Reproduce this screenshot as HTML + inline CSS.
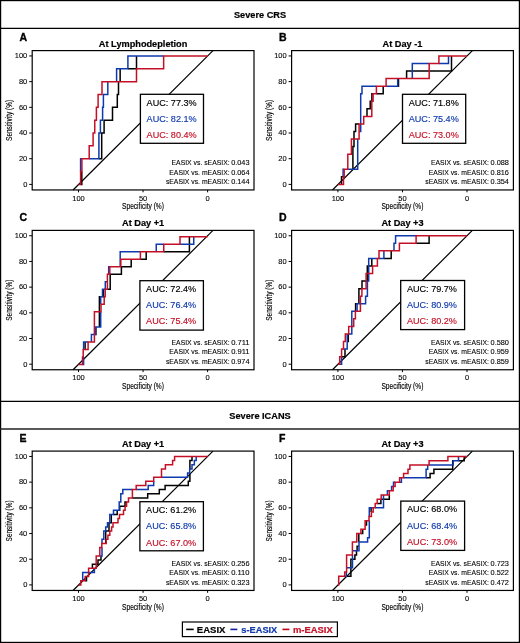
<!DOCTYPE html>
<html><head><meta charset="utf-8"><style>
html,body{margin:0;padding:0;background:#fff;}
svg{display:block;will-change:transform;}
text{font-family:"Liberation Sans", sans-serif;}
text.b{font-weight:bold;}
</style></head><body>
<svg width="520" height="643" viewBox="0 0 520 643">
<rect x="0.6" y="0.6" width="518.8" height="641.8" fill="none" stroke="#000" stroke-width="1.2"/>
<line x1="0" y1="28.3" x2="520" y2="28.3" stroke="#000" stroke-width="1.2"/>
<line x1="0" y1="401.4" x2="520" y2="401.4" stroke="#000" stroke-width="1.2"/>
<line x1="0" y1="429" x2="520" y2="429" stroke="#222" stroke-width="1.4"/>
<text x="260" y="18.1" class="b" font-size="9.2" text-anchor="middle" stroke="#000" stroke-width="0.2">Severe CRS</text>
<text x="260" y="418.5" class="b" font-size="9.2" text-anchor="middle" stroke="#000" stroke-width="0.2">Severe ICANS</text>
<g transform="translate(0,0)">
<text x="19.6" y="41" class="b" font-size="10.5" stroke="#000" stroke-width="0.35">A</text>
<text x="143.10" y="46.5" class="b" font-size="9.2" text-anchor="middle" stroke="#000" stroke-width="0.2">At Lymphodepletion</text>
<line x1="73.07" y1="189.95" x2="212.98" y2="50.6" stroke="#000" stroke-width="1.2"/>
<path d="M80.60,184.40 L81.80,184.40 L81.80,171.56 M98.90,158.71 L101.70,158.71 L101.70,133.02 L104.10,133.02 L104.10,120.18 L112.50,120.18 L112.50,107.33 L117.30,107.33 L117.30,94.48 L118.50,94.48 L118.50,81.64 M120.15,81.64 L120.15,68.80 M127.90,68.80 L136.50,68.80 L136.50,55.95" fill="none" stroke="#000000" stroke-width="1.5" stroke-linejoin="miter"/>
<path d="M80.60,171.56 L80.60,158.71 L81.90,158.71 M89.20,158.71 L98.90,158.71 L98.90,133.02 L100.40,133.02 L100.40,120.18 L102.60,120.18 L102.60,107.33 L103.40,107.33 L103.40,94.48 L107.80,94.48 L107.80,81.64 M116.60,81.64 L116.60,68.80 L127.90,68.80 L127.90,55.95 L163.65,55.95" fill="none" stroke="#0f3aad" stroke-width="1.5" stroke-linejoin="miter"/>
<path d="M78.50,184.40 L80.60,184.40 L80.60,171.56 L81.90,171.56 L81.90,158.71 L89.20,158.71 L89.20,145.87 L93.10,145.87 L93.10,133.02 L94.75,133.02 L94.75,120.18 L96.40,120.18 L96.40,107.33 L98.10,107.33 L98.10,94.48 L102.00,94.48 L102.00,81.64 L136.50,81.64 L136.50,68.80 L163.65,68.80 L163.65,55.95 L207.60,55.95" fill="none" stroke="#c41026" stroke-width="1.5" stroke-linejoin="miter"/>
<rect x="32.2" y="50.6" width="221.80" height="139.35" fill="none" stroke="#000" stroke-width="1.2"/>
<line x1="29.2" y1="55.95" x2="32.2" y2="55.95" stroke="#000" stroke-width="1"/>
<text x="27.3" y="58.30" font-size="7.5" text-anchor="end" stroke="#000" stroke-width="0.1">100</text>
<line x1="29.2" y1="81.64" x2="32.2" y2="81.64" stroke="#000" stroke-width="1"/>
<text x="27.3" y="83.99" font-size="7.5" text-anchor="end" stroke="#000" stroke-width="0.1">80</text>
<line x1="29.2" y1="107.33" x2="32.2" y2="107.33" stroke="#000" stroke-width="1"/>
<text x="27.3" y="109.68" font-size="7.5" text-anchor="end" stroke="#000" stroke-width="0.1">60</text>
<line x1="29.2" y1="133.02" x2="32.2" y2="133.02" stroke="#000" stroke-width="1"/>
<text x="27.3" y="135.37" font-size="7.5" text-anchor="end" stroke="#000" stroke-width="0.1">40</text>
<line x1="29.2" y1="158.71" x2="32.2" y2="158.71" stroke="#000" stroke-width="1"/>
<text x="27.3" y="161.06" font-size="7.5" text-anchor="end" stroke="#000" stroke-width="0.1">20</text>
<line x1="29.2" y1="184.40" x2="32.2" y2="184.40" stroke="#000" stroke-width="1"/>
<text x="27.3" y="186.75" font-size="7.5" text-anchor="end" stroke="#000" stroke-width="0.1">0</text>
<line x1="78.50" y1="189.95" x2="78.50" y2="192.3" stroke="#000" stroke-width="1"/>
<text x="78.50" y="200.6" font-size="7.5" text-anchor="middle" stroke="#000" stroke-width="0.1">100</text>
<line x1="143.05" y1="189.95" x2="143.05" y2="192.3" stroke="#000" stroke-width="1"/>
<text x="143.05" y="200.6" font-size="7.5" text-anchor="middle" stroke="#000" stroke-width="0.1">50</text>
<line x1="207.60" y1="189.95" x2="207.60" y2="192.3" stroke="#000" stroke-width="1"/>
<text x="207.60" y="200.6" font-size="7.5" text-anchor="middle" stroke="#000" stroke-width="0.1">0</text>
<text x="143" y="209.4" font-size="8.2" text-anchor="middle" textLength="41.9" lengthAdjust="spacingAndGlyphs" stroke="#000" stroke-width="0.15">Specificity (%)</text>
<text transform="translate(12.3,120.4) rotate(-90)" x="0" y="0" font-size="8.2" text-anchor="middle" textLength="41" lengthAdjust="spacingAndGlyphs" stroke="#000" stroke-width="0.15">Sensitivity (%)</text>
<rect x="140.4" y="94.30" width="63.10" height="49.00" fill="#fff" stroke="#000" stroke-width="1.3"/>
<text x="146.60" y="105.50" font-size="9.1" fill="#000000" stroke="#000000" stroke-width="0.15">AUC: 77.3%</text>
<text x="146.60" y="121.80" font-size="9.1" fill="#0f3aad" stroke="#0f3aad" stroke-width="0.15">AUC: 82.1%</text>
<text x="146.60" y="138.10" font-size="9.1" fill="#c41026" stroke="#c41026" stroke-width="0.15">AUC: 80.4%</text>
<text x="229.6" y="165.25" font-size="6.95" text-anchor="end" textLength="58.03" lengthAdjust="spacingAndGlyphs" stroke="#000" stroke-width="0.1">EASIX vs. sEASIX:</text>
<text x="249.55" y="165.25" font-size="6.95" text-anchor="end" textLength="18.4" lengthAdjust="spacingAndGlyphs" stroke="#000" stroke-width="0.1">0.043</text>
<text x="229.6" y="174.65" font-size="6.95" text-anchor="end" textLength="60.31" lengthAdjust="spacingAndGlyphs" stroke="#000" stroke-width="0.1">EASIX vs. mEASIX:</text>
<text x="249.55" y="174.65" font-size="6.95" text-anchor="end" textLength="18.4" lengthAdjust="spacingAndGlyphs" stroke="#000" stroke-width="0.1">0.064</text>
<text x="229.6" y="184.05" font-size="6.95" text-anchor="end" textLength="63.72" lengthAdjust="spacingAndGlyphs" stroke="#000" stroke-width="0.1">sEASIX vs. mEASIX:</text>
<text x="249.55" y="184.05" font-size="6.95" text-anchor="end" textLength="18.4" lengthAdjust="spacingAndGlyphs" stroke="#000" stroke-width="0.1">0.144</text>
</g>
<g transform="translate(259.4,0)">
<text x="19.6" y="41" class="b" font-size="10.5" stroke="#000" stroke-width="0.35">B</text>
<text x="143.10" y="46.5" class="b" font-size="9.2" text-anchor="middle" stroke="#000" stroke-width="0.2">At Day -1</text>
<line x1="73.07" y1="189.95" x2="212.98" y2="50.6" stroke="#000" stroke-width="1.2"/>
<path d="M82.10,184.40 L82.10,176.84 L83.80,176.84 M93.50,169.29 L93.50,146.62 L94.60,146.62 L94.60,131.51 L96.20,131.51 L96.20,123.95 L99.70,123.95 M107.60,116.40 L107.60,108.84 L110.80,108.84 L110.80,101.29 L112.40,101.29 M112.50,101.29 L112.50,93.73 L113.70,93.73 M117.00,93.73 L123.80,93.73 L123.80,86.17 M138.30,86.17 L139.10,86.17 L139.10,78.62 M147.20,78.62 L147.20,71.06 L192.10,71.06 L192.10,55.95" fill="none" stroke="#000000" stroke-width="1.5" stroke-linejoin="miter"/>
<path d="M83.70,176.84 L83.70,169.29 L84.80,169.29 M88.40,169.29 L98.30,169.29 L98.30,139.06 M99.70,131.51 L101.30,131.51 L101.30,93.73 L102.60,93.73 L102.60,86.17 L117.00,86.17 M126.70,86.17 L138.30,86.17 L138.30,78.62 M152.90,78.62 L152.90,63.51 L169.80,63.51 M179.50,63.51 L189.10,63.51 L189.10,55.95" fill="none" stroke="#0f3aad" stroke-width="1.5" stroke-linejoin="miter"/>
<path d="M78.50,184.40 L84.10,184.40 L84.10,176.84 L84.80,176.84 L84.80,169.29 L88.40,169.29 L88.40,154.18 L92.00,154.18 L92.00,139.06 L99.70,139.06 L99.70,123.95 L104.30,123.95 L104.30,116.40 L112.40,116.40 L112.40,101.29 L113.70,101.29 L113.70,93.73 L117.00,93.73 L117.00,86.17 L126.70,86.17 L126.70,78.62 L169.80,78.62 L169.80,63.51 L179.50,63.51 L179.50,55.95 L207.60,55.95" fill="none" stroke="#c41026" stroke-width="1.5" stroke-linejoin="miter"/>
<rect x="32.2" y="50.6" width="221.80" height="139.35" fill="none" stroke="#000" stroke-width="1.2"/>
<line x1="29.2" y1="55.95" x2="32.2" y2="55.95" stroke="#000" stroke-width="1"/>
<text x="27.3" y="58.30" font-size="7.5" text-anchor="end" stroke="#000" stroke-width="0.1">100</text>
<line x1="29.2" y1="81.64" x2="32.2" y2="81.64" stroke="#000" stroke-width="1"/>
<text x="27.3" y="83.99" font-size="7.5" text-anchor="end" stroke="#000" stroke-width="0.1">80</text>
<line x1="29.2" y1="107.33" x2="32.2" y2="107.33" stroke="#000" stroke-width="1"/>
<text x="27.3" y="109.68" font-size="7.5" text-anchor="end" stroke="#000" stroke-width="0.1">60</text>
<line x1="29.2" y1="133.02" x2="32.2" y2="133.02" stroke="#000" stroke-width="1"/>
<text x="27.3" y="135.37" font-size="7.5" text-anchor="end" stroke="#000" stroke-width="0.1">40</text>
<line x1="29.2" y1="158.71" x2="32.2" y2="158.71" stroke="#000" stroke-width="1"/>
<text x="27.3" y="161.06" font-size="7.5" text-anchor="end" stroke="#000" stroke-width="0.1">20</text>
<line x1="29.2" y1="184.40" x2="32.2" y2="184.40" stroke="#000" stroke-width="1"/>
<text x="27.3" y="186.75" font-size="7.5" text-anchor="end" stroke="#000" stroke-width="0.1">0</text>
<line x1="78.50" y1="189.95" x2="78.50" y2="192.3" stroke="#000" stroke-width="1"/>
<text x="78.50" y="200.6" font-size="7.5" text-anchor="middle" stroke="#000" stroke-width="0.1">100</text>
<line x1="143.05" y1="189.95" x2="143.05" y2="192.3" stroke="#000" stroke-width="1"/>
<text x="143.05" y="200.6" font-size="7.5" text-anchor="middle" stroke="#000" stroke-width="0.1">50</text>
<line x1="207.60" y1="189.95" x2="207.60" y2="192.3" stroke="#000" stroke-width="1"/>
<text x="207.60" y="200.6" font-size="7.5" text-anchor="middle" stroke="#000" stroke-width="0.1">0</text>
<text x="143" y="209.4" font-size="8.2" text-anchor="middle" textLength="41.9" lengthAdjust="spacingAndGlyphs" stroke="#000" stroke-width="0.15">Specificity (%)</text>
<text transform="translate(12.3,120.4) rotate(-90)" x="0" y="0" font-size="8.2" text-anchor="middle" textLength="41" lengthAdjust="spacingAndGlyphs" stroke="#000" stroke-width="0.15">Sensitivity (%)</text>
<rect x="143.1" y="94.30" width="63.20" height="49.00" fill="#fff" stroke="#000" stroke-width="1.3"/>
<text x="149.30" y="105.50" font-size="9.1" fill="#000000" stroke="#000000" stroke-width="0.15">AUC: 71.8%</text>
<text x="149.30" y="121.80" font-size="9.1" fill="#0f3aad" stroke="#0f3aad" stroke-width="0.15">AUC: 75.4%</text>
<text x="149.30" y="138.10" font-size="9.1" fill="#c41026" stroke="#c41026" stroke-width="0.15">AUC: 73.0%</text>
<text x="229.6" y="165.25" font-size="6.95" text-anchor="end" textLength="58.03" lengthAdjust="spacingAndGlyphs" stroke="#000" stroke-width="0.1">EASIX vs. sEASIX:</text>
<text x="249.55" y="165.25" font-size="6.95" text-anchor="end" textLength="18.4" lengthAdjust="spacingAndGlyphs" stroke="#000" stroke-width="0.1">0.088</text>
<text x="229.6" y="174.65" font-size="6.95" text-anchor="end" textLength="60.31" lengthAdjust="spacingAndGlyphs" stroke="#000" stroke-width="0.1">EASIX vs. mEASIX:</text>
<text x="249.55" y="174.65" font-size="6.95" text-anchor="end" textLength="18.4" lengthAdjust="spacingAndGlyphs" stroke="#000" stroke-width="0.1">0.816</text>
<text x="229.6" y="184.05" font-size="6.95" text-anchor="end" textLength="63.72" lengthAdjust="spacingAndGlyphs" stroke="#000" stroke-width="0.1">sEASIX vs. mEASIX:</text>
<text x="249.55" y="184.05" font-size="6.95" text-anchor="end" textLength="18.4" lengthAdjust="spacingAndGlyphs" stroke="#000" stroke-width="0.1">0.354</text>
</g>
<g transform="translate(0,179.8)">
<text x="19.6" y="41" class="b" font-size="10.5" stroke="#000" stroke-width="0.35">C</text>
<text x="143.10" y="46.5" class="b" font-size="9.2" text-anchor="middle" stroke="#000" stroke-width="0.2">At Day +1</text>
<line x1="73.07" y1="189.95" x2="212.98" y2="50.6" stroke="#000" stroke-width="1.2"/>
<path d="M85.10,169.66 L85.10,162.14 M95.50,154.62 L95.90,154.62 L95.90,147.10 M99.40,147.10 L99.40,117.01 L100.70,117.01 M102.50,117.01 L103.50,117.01 L103.50,109.49 M107.40,109.49 L110.20,109.49 L110.20,94.45 L121.40,94.45 L121.40,86.93 L131.20,86.93 L131.20,79.41 M140.40,79.41 L146.20,79.41 L146.20,71.89 M163.75,71.89 L189.40,71.89 L189.40,56.85" fill="none" stroke="#000000" stroke-width="1.5" stroke-linejoin="miter"/>
<path d="M82.50,184.70 L83.60,184.70 L83.60,177.18 M83.60,169.66 L83.60,162.14 L88.10,162.14 M91.40,162.14 L91.40,154.62 L95.50,154.62 L95.50,147.10 L100.70,147.10 L100.70,132.06 M100.70,124.54 L100.70,117.01 L102.50,117.01 L102.50,109.49 L105.20,109.49 M105.30,109.49 L105.30,101.97 L107.20,101.97 M107.20,94.45 L107.40,94.45 M108.70,94.45 L108.70,86.93 L109.80,86.93 M120.20,86.93 L120.20,71.89 L140.40,71.89 M156.25,71.89 L156.25,64.37 L163.75,64.37 M180.00,64.37 L193.75,64.37 L193.75,56.85" fill="none" stroke="#0f3aad" stroke-width="1.5" stroke-linejoin="miter"/>
<path d="M78.50,184.70 L82.50,184.70 L82.50,177.18 L83.20,177.18 L83.20,169.66 L88.10,169.66 L88.10,162.14 L94.40,162.14 L94.40,132.06 L101.00,132.06 L101.00,124.54 L104.20,124.54 L104.20,117.01 L105.20,117.01 L105.20,109.49 L107.40,109.49 L107.40,94.45 L109.80,94.45 L109.80,86.93 L120.80,86.93 L120.80,79.41 L140.40,79.41 L140.40,71.89 L163.75,71.89 L163.75,64.37 L180.00,64.37 L180.00,56.85 L207.60,56.85" fill="none" stroke="#c41026" stroke-width="1.5" stroke-linejoin="miter"/>
<rect x="32.2" y="50.6" width="221.80" height="139.35" fill="none" stroke="#000" stroke-width="1.2"/>
<line x1="29.2" y1="55.95" x2="32.2" y2="55.95" stroke="#000" stroke-width="1"/>
<text x="27.3" y="58.30" font-size="7.5" text-anchor="end" stroke="#000" stroke-width="0.1">100</text>
<line x1="29.2" y1="81.64" x2="32.2" y2="81.64" stroke="#000" stroke-width="1"/>
<text x="27.3" y="83.99" font-size="7.5" text-anchor="end" stroke="#000" stroke-width="0.1">80</text>
<line x1="29.2" y1="107.33" x2="32.2" y2="107.33" stroke="#000" stroke-width="1"/>
<text x="27.3" y="109.68" font-size="7.5" text-anchor="end" stroke="#000" stroke-width="0.1">60</text>
<line x1="29.2" y1="133.02" x2="32.2" y2="133.02" stroke="#000" stroke-width="1"/>
<text x="27.3" y="135.37" font-size="7.5" text-anchor="end" stroke="#000" stroke-width="0.1">40</text>
<line x1="29.2" y1="158.71" x2="32.2" y2="158.71" stroke="#000" stroke-width="1"/>
<text x="27.3" y="161.06" font-size="7.5" text-anchor="end" stroke="#000" stroke-width="0.1">20</text>
<line x1="29.2" y1="184.40" x2="32.2" y2="184.40" stroke="#000" stroke-width="1"/>
<text x="27.3" y="186.75" font-size="7.5" text-anchor="end" stroke="#000" stroke-width="0.1">0</text>
<line x1="78.50" y1="189.95" x2="78.50" y2="192.3" stroke="#000" stroke-width="1"/>
<text x="78.50" y="200.6" font-size="7.5" text-anchor="middle" stroke="#000" stroke-width="0.1">100</text>
<line x1="143.05" y1="189.95" x2="143.05" y2="192.3" stroke="#000" stroke-width="1"/>
<text x="143.05" y="200.6" font-size="7.5" text-anchor="middle" stroke="#000" stroke-width="0.1">50</text>
<line x1="207.60" y1="189.95" x2="207.60" y2="192.3" stroke="#000" stroke-width="1"/>
<text x="207.60" y="200.6" font-size="7.5" text-anchor="middle" stroke="#000" stroke-width="0.1">0</text>
<text x="143" y="209.4" font-size="8.2" text-anchor="middle" textLength="41.9" lengthAdjust="spacingAndGlyphs" stroke="#000" stroke-width="0.15">Specificity (%)</text>
<text transform="translate(12.3,120.4) rotate(-90)" x="0" y="0" font-size="8.2" text-anchor="middle" textLength="41" lengthAdjust="spacingAndGlyphs" stroke="#000" stroke-width="0.15">Sensitivity (%)</text>
<rect x="139.9" y="100.90" width="63.50" height="49.40" fill="#fff" stroke="#000" stroke-width="1.3"/>
<text x="146.10" y="112.10" font-size="9.1" fill="#000000" stroke="#000000" stroke-width="0.15">AUC: 72.4%</text>
<text x="146.10" y="128.40" font-size="9.1" fill="#0f3aad" stroke="#0f3aad" stroke-width="0.15">AUC: 76.4%</text>
<text x="146.10" y="144.70" font-size="9.1" fill="#c41026" stroke="#c41026" stroke-width="0.15">AUC: 75.4%</text>
<text x="229.6" y="165.25" font-size="6.95" text-anchor="end" textLength="58.03" lengthAdjust="spacingAndGlyphs" stroke="#000" stroke-width="0.1">EASIX vs. sEASIX:</text>
<text x="249.55" y="165.25" font-size="6.95" text-anchor="end" textLength="18.4" lengthAdjust="spacingAndGlyphs" stroke="#000" stroke-width="0.1">0.711</text>
<text x="229.6" y="174.65" font-size="6.95" text-anchor="end" textLength="60.31" lengthAdjust="spacingAndGlyphs" stroke="#000" stroke-width="0.1">EASIX vs. mEASIX:</text>
<text x="249.55" y="174.65" font-size="6.95" text-anchor="end" textLength="18.4" lengthAdjust="spacingAndGlyphs" stroke="#000" stroke-width="0.1">0.911</text>
<text x="229.6" y="184.05" font-size="6.95" text-anchor="end" textLength="63.72" lengthAdjust="spacingAndGlyphs" stroke="#000" stroke-width="0.1">sEASIX vs. mEASIX:</text>
<text x="249.55" y="184.05" font-size="6.95" text-anchor="end" textLength="18.4" lengthAdjust="spacingAndGlyphs" stroke="#000" stroke-width="0.1">0.974</text>
</g>
<g transform="translate(259.4,179.8)">
<text x="19.6" y="41" class="b" font-size="10.5" stroke="#000" stroke-width="0.35">D</text>
<text x="143.10" y="46.5" class="b" font-size="9.2" text-anchor="middle" stroke="#000" stroke-width="0.2">At Day +3</text>
<line x1="73.07" y1="189.95" x2="212.98" y2="50.6" stroke="#000" stroke-width="1.2"/>
<path d="M82.20,176.84 L85.60,176.84 L85.60,169.29 M87.80,161.73 L88.90,161.73 L88.90,154.18 M96.20,131.51 L96.20,123.95 L97.70,123.95 M99.50,123.95 L99.50,108.84 L102.50,108.84 M102.60,108.84 L102.60,101.29 L107.90,101.29 L107.90,86.17 L112.40,86.17 L112.40,78.62 M124.50,78.62 L131.80,78.62 L131.80,71.06 M156.70,63.51 L169.70,63.51 L169.70,55.95" fill="none" stroke="#000000" stroke-width="1.5" stroke-linejoin="miter"/>
<path d="M80.30,184.40 L82.20,184.40 L82.20,176.84 M84.10,169.29 L87.80,169.29 L87.80,154.18 M89.30,154.18 L92.40,154.18 L92.40,131.51 L96.00,131.51 M97.70,131.51 L97.70,123.95 L106.20,123.95 L106.20,116.40 L108.00,116.40 L108.00,101.29 L109.30,101.29 L109.30,78.62 L118.00,78.62 M119.60,78.62 L124.50,78.62 L124.50,71.06 M134.60,71.06 L134.60,63.51 L136.20,63.51 L136.20,55.95 L156.70,55.95" fill="none" stroke="#0f3aad" stroke-width="1.5" stroke-linejoin="miter"/>
<path d="M78.50,184.40 L80.30,184.40 L80.30,176.84 L82.20,176.84 L82.20,169.29 L84.10,169.29 L84.10,161.73 L85.90,161.73 L85.90,154.18 L89.30,154.18 L89.30,146.62 L94.30,146.62 L94.30,139.06 L96.00,139.06 L96.00,131.51 L101.00,131.51 L101.00,116.40 L102.50,116.40 L102.50,108.84 L106.70,108.84 L106.70,93.73 L113.20,93.73 L113.20,86.17 L118.00,86.17 L118.00,78.62 L119.60,78.62 L119.60,71.06 L140.00,71.06 L140.00,63.51 L156.70,63.51 L156.70,55.95 L207.60,55.95" fill="none" stroke="#c41026" stroke-width="1.5" stroke-linejoin="miter"/>
<rect x="32.2" y="50.6" width="221.80" height="139.35" fill="none" stroke="#000" stroke-width="1.2"/>
<line x1="29.2" y1="55.95" x2="32.2" y2="55.95" stroke="#000" stroke-width="1"/>
<text x="27.3" y="58.30" font-size="7.5" text-anchor="end" stroke="#000" stroke-width="0.1">100</text>
<line x1="29.2" y1="81.64" x2="32.2" y2="81.64" stroke="#000" stroke-width="1"/>
<text x="27.3" y="83.99" font-size="7.5" text-anchor="end" stroke="#000" stroke-width="0.1">80</text>
<line x1="29.2" y1="107.33" x2="32.2" y2="107.33" stroke="#000" stroke-width="1"/>
<text x="27.3" y="109.68" font-size="7.5" text-anchor="end" stroke="#000" stroke-width="0.1">60</text>
<line x1="29.2" y1="133.02" x2="32.2" y2="133.02" stroke="#000" stroke-width="1"/>
<text x="27.3" y="135.37" font-size="7.5" text-anchor="end" stroke="#000" stroke-width="0.1">40</text>
<line x1="29.2" y1="158.71" x2="32.2" y2="158.71" stroke="#000" stroke-width="1"/>
<text x="27.3" y="161.06" font-size="7.5" text-anchor="end" stroke="#000" stroke-width="0.1">20</text>
<line x1="29.2" y1="184.40" x2="32.2" y2="184.40" stroke="#000" stroke-width="1"/>
<text x="27.3" y="186.75" font-size="7.5" text-anchor="end" stroke="#000" stroke-width="0.1">0</text>
<line x1="78.50" y1="189.95" x2="78.50" y2="192.3" stroke="#000" stroke-width="1"/>
<text x="78.50" y="200.6" font-size="7.5" text-anchor="middle" stroke="#000" stroke-width="0.1">100</text>
<line x1="143.05" y1="189.95" x2="143.05" y2="192.3" stroke="#000" stroke-width="1"/>
<text x="143.05" y="200.6" font-size="7.5" text-anchor="middle" stroke="#000" stroke-width="0.1">50</text>
<line x1="207.60" y1="189.95" x2="207.60" y2="192.3" stroke="#000" stroke-width="1"/>
<text x="207.60" y="200.6" font-size="7.5" text-anchor="middle" stroke="#000" stroke-width="0.1">0</text>
<text x="143" y="209.4" font-size="8.2" text-anchor="middle" textLength="41.9" lengthAdjust="spacingAndGlyphs" stroke="#000" stroke-width="0.15">Specificity (%)</text>
<text transform="translate(12.3,120.4) rotate(-90)" x="0" y="0" font-size="8.2" text-anchor="middle" textLength="41" lengthAdjust="spacingAndGlyphs" stroke="#000" stroke-width="0.15">Sensitivity (%)</text>
<rect x="141.3" y="100.70" width="63.90" height="49.10" fill="#fff" stroke="#000" stroke-width="1.3"/>
<text x="147.50" y="111.90" font-size="9.1" fill="#000000" stroke="#000000" stroke-width="0.15">AUC: 79.7%</text>
<text x="147.50" y="128.20" font-size="9.1" fill="#0f3aad" stroke="#0f3aad" stroke-width="0.15">AUC: 80.9%</text>
<text x="147.50" y="144.50" font-size="9.1" fill="#c41026" stroke="#c41026" stroke-width="0.15">AUC: 80.2%</text>
<text x="229.6" y="165.25" font-size="6.95" text-anchor="end" textLength="58.03" lengthAdjust="spacingAndGlyphs" stroke="#000" stroke-width="0.1">EASIX vs. sEASIX:</text>
<text x="249.55" y="165.25" font-size="6.95" text-anchor="end" textLength="18.4" lengthAdjust="spacingAndGlyphs" stroke="#000" stroke-width="0.1">0.580</text>
<text x="229.6" y="174.65" font-size="6.95" text-anchor="end" textLength="60.31" lengthAdjust="spacingAndGlyphs" stroke="#000" stroke-width="0.1">EASIX vs. mEASIX:</text>
<text x="249.55" y="174.65" font-size="6.95" text-anchor="end" textLength="18.4" lengthAdjust="spacingAndGlyphs" stroke="#000" stroke-width="0.1">0.959</text>
<text x="229.6" y="184.05" font-size="6.95" text-anchor="end" textLength="63.72" lengthAdjust="spacingAndGlyphs" stroke="#000" stroke-width="0.1">sEASIX vs. mEASIX:</text>
<text x="249.55" y="184.05" font-size="6.95" text-anchor="end" textLength="18.4" lengthAdjust="spacingAndGlyphs" stroke="#000" stroke-width="0.1">0.859</text>
</g>
<g transform="translate(0,400.5)">
<text x="19.6" y="41" class="b" font-size="10.5" stroke="#000" stroke-width="0.35">E</text>
<text x="143.10" y="46.5" class="b" font-size="9.2" text-anchor="middle" stroke="#000" stroke-width="0.2">At Day +1</text>
<line x1="73.07" y1="189.95" x2="212.98" y2="50.6" stroke="#000" stroke-width="1.2"/>
<path d="M85.20,180.26 L86.50,180.26 L86.50,176.11 M92.40,167.83 L92.40,163.68 L98.00,163.68 L98.00,159.54 L101.00,159.54 L101.00,155.40 M105.70,142.96 L105.70,130.53 L109.00,130.53 L109.00,122.25 M109.80,122.25 L111.30,122.25 L111.30,113.96 M113.50,113.96 L117.20,113.96 L117.20,109.82 M119.20,109.82 L119.70,109.82 L119.70,105.67 L125.00,105.67 L125.00,101.53 L126.60,101.53 M132.40,97.39 L147.70,97.39 L147.70,93.24 L159.30,93.24 L159.30,89.10 L165.10,89.10 L165.10,84.95 L188.30,84.95 L188.30,80.81 L189.90,80.81 L189.90,72.52 M189.90,68.38 L189.90,60.09 L192.00,60.09 L192.00,55.95" fill="none" stroke="#000000" stroke-width="1.5" stroke-linejoin="miter"/>
<path d="M82.70,180.26 L82.70,171.97 L94.40,171.97 L94.40,167.83 M96.20,167.83 L96.30,167.83 M99.80,155.40 L102.00,155.40 L102.00,147.11 M102.00,142.96 L102.00,138.82 L103.80,138.82 L103.80,130.53 L105.70,130.53 L105.70,126.39 L107.50,126.39 L107.50,122.25 L109.80,122.25 L109.80,113.96 L113.50,113.96 L113.50,109.82 L119.20,109.82 L119.20,101.53 L120.80,101.53 L120.80,93.24 L122.80,93.24 L122.80,89.10 L132.40,89.10 M136.20,89.10 L148.20,89.10 L148.20,84.95 L153.70,84.95 L153.70,80.81 M161.50,76.67 L187.60,76.67 L187.60,72.52 L189.70,72.52 L189.70,68.38 L192.00,68.38 L192.00,64.24 L194.35,64.24 L194.35,60.09 L196.20,60.09 L196.20,55.95" fill="none" stroke="#0f3aad" stroke-width="1.5" stroke-linejoin="miter"/>
<path d="M78.50,184.40 L80.80,184.40 L80.80,180.26 L85.20,180.26 L85.20,176.11 L88.60,176.11 L88.60,167.83 L96.20,167.83 L96.20,155.40 L99.80,155.40 L99.80,147.11 L101.80,147.11 L101.80,142.96 L106.20,142.96 L106.20,138.82 L107.90,138.82 L107.90,134.68 L109.80,134.68 L109.80,130.53 L111.60,130.53 L111.60,126.39 L113.00,126.39 L113.00,122.25 L118.00,122.25 L118.00,118.10 L119.50,118.10 L119.50,113.96 L123.50,113.96 L123.50,109.82 L125.10,109.82 L125.10,105.67 L126.60,105.67 L126.60,101.53 L128.50,101.53 L128.50,97.39 L132.40,97.39 L132.40,89.10 L136.20,89.10 L136.20,84.95 L145.80,84.95 L145.80,80.81 L153.70,80.81 L153.70,76.67 L161.50,76.67 L161.50,68.38 L165.40,68.38 L165.40,64.24 L172.60,64.24 L172.60,60.09 L174.60,60.09 L174.60,55.95 L207.60,55.95" fill="none" stroke="#c41026" stroke-width="1.5" stroke-linejoin="miter"/>
<rect x="32.2" y="50.6" width="221.80" height="139.35" fill="none" stroke="#000" stroke-width="1.2"/>
<line x1="29.2" y1="55.95" x2="32.2" y2="55.95" stroke="#000" stroke-width="1"/>
<text x="27.3" y="58.30" font-size="7.5" text-anchor="end" stroke="#000" stroke-width="0.1">100</text>
<line x1="29.2" y1="81.64" x2="32.2" y2="81.64" stroke="#000" stroke-width="1"/>
<text x="27.3" y="83.99" font-size="7.5" text-anchor="end" stroke="#000" stroke-width="0.1">80</text>
<line x1="29.2" y1="107.33" x2="32.2" y2="107.33" stroke="#000" stroke-width="1"/>
<text x="27.3" y="109.68" font-size="7.5" text-anchor="end" stroke="#000" stroke-width="0.1">60</text>
<line x1="29.2" y1="133.02" x2="32.2" y2="133.02" stroke="#000" stroke-width="1"/>
<text x="27.3" y="135.37" font-size="7.5" text-anchor="end" stroke="#000" stroke-width="0.1">40</text>
<line x1="29.2" y1="158.71" x2="32.2" y2="158.71" stroke="#000" stroke-width="1"/>
<text x="27.3" y="161.06" font-size="7.5" text-anchor="end" stroke="#000" stroke-width="0.1">20</text>
<line x1="29.2" y1="184.40" x2="32.2" y2="184.40" stroke="#000" stroke-width="1"/>
<text x="27.3" y="186.75" font-size="7.5" text-anchor="end" stroke="#000" stroke-width="0.1">0</text>
<line x1="78.50" y1="189.95" x2="78.50" y2="192.3" stroke="#000" stroke-width="1"/>
<text x="78.50" y="200.6" font-size="7.5" text-anchor="middle" stroke="#000" stroke-width="0.1">100</text>
<line x1="143.05" y1="189.95" x2="143.05" y2="192.3" stroke="#000" stroke-width="1"/>
<text x="143.05" y="200.6" font-size="7.5" text-anchor="middle" stroke="#000" stroke-width="0.1">50</text>
<line x1="207.60" y1="189.95" x2="207.60" y2="192.3" stroke="#000" stroke-width="1"/>
<text x="207.60" y="200.6" font-size="7.5" text-anchor="middle" stroke="#000" stroke-width="0.1">0</text>
<text x="143" y="209.4" font-size="8.2" text-anchor="middle" textLength="41.9" lengthAdjust="spacingAndGlyphs" stroke="#000" stroke-width="0.15">Specificity (%)</text>
<text transform="translate(12.3,120.4) rotate(-90)" x="0" y="0" font-size="8.2" text-anchor="middle" textLength="41" lengthAdjust="spacingAndGlyphs" stroke="#000" stroke-width="0.15">Sensitivity (%)</text>
<rect x="139.9" y="101.20" width="63.50" height="49.10" fill="#fff" stroke="#000" stroke-width="1.3"/>
<text x="146.10" y="112.40" font-size="9.1" fill="#000000" stroke="#000000" stroke-width="0.15">AUC: 61.2%</text>
<text x="146.10" y="128.70" font-size="9.1" fill="#0f3aad" stroke="#0f3aad" stroke-width="0.15">AUC: 65.8%</text>
<text x="146.10" y="145.00" font-size="9.1" fill="#c41026" stroke="#c41026" stroke-width="0.15">AUC: 67.0%</text>
<text x="229.6" y="165.25" font-size="6.95" text-anchor="end" textLength="58.03" lengthAdjust="spacingAndGlyphs" stroke="#000" stroke-width="0.1">EASIX vs. sEASIX:</text>
<text x="249.55" y="165.25" font-size="6.95" text-anchor="end" textLength="18.4" lengthAdjust="spacingAndGlyphs" stroke="#000" stroke-width="0.1">0.256</text>
<text x="229.6" y="174.65" font-size="6.95" text-anchor="end" textLength="60.31" lengthAdjust="spacingAndGlyphs" stroke="#000" stroke-width="0.1">EASIX vs. mEASIX:</text>
<text x="249.55" y="174.65" font-size="6.95" text-anchor="end" textLength="18.4" lengthAdjust="spacingAndGlyphs" stroke="#000" stroke-width="0.1">0.110</text>
<text x="229.6" y="184.05" font-size="6.95" text-anchor="end" textLength="63.72" lengthAdjust="spacingAndGlyphs" stroke="#000" stroke-width="0.1">sEASIX vs. mEASIX:</text>
<text x="249.55" y="184.05" font-size="6.95" text-anchor="end" textLength="18.4" lengthAdjust="spacingAndGlyphs" stroke="#000" stroke-width="0.1">0.323</text>
</g>
<g transform="translate(259.4,400.5)">
<text x="19.6" y="41" class="b" font-size="10.5" stroke="#000" stroke-width="0.35">F</text>
<text x="143.10" y="46.5" class="b" font-size="9.2" text-anchor="middle" stroke="#000" stroke-width="0.2">At Day +3</text>
<line x1="73.07" y1="189.95" x2="212.98" y2="50.6" stroke="#000" stroke-width="1.2"/>
<path d="M86.90,175.84 L91.50,175.84 L91.50,158.71 L95.50,158.71 L95.50,154.43 L97.10,154.43 L97.10,150.15 M97.70,150.15 L97.70,145.87 L99.40,145.87 M99.40,141.58 L99.40,133.02 M101.50,133.02 L103.30,133.02 L103.30,128.74 M105.70,124.46 L107.10,124.46 L107.10,120.18 M109.60,120.18 L109.80,120.18 M111.70,111.61 L111.70,107.33 M117.80,103.05 L121.50,103.05 L121.50,98.77 M121.80,98.77 L129.90,98.77 L129.90,94.48 M166.70,77.36 L170.70,77.36 L170.70,73.08 L174.50,73.08 L174.50,68.80 L193.30,68.80 L193.30,60.23 L193.80,60.23 M199.10,60.23 L204.80,60.23 L204.80,55.95" fill="none" stroke="#000000" stroke-width="1.5" stroke-linejoin="miter"/>
<path d="M85.30,175.84 L86.90,175.84 L86.90,171.56 M86.90,167.27 L93.10,167.27 L93.10,154.43 M93.10,150.15 L99.60,150.15 L99.60,141.58 L108.20,141.58 L108.20,137.30 L109.90,137.30 L109.90,120.18 M109.90,115.89 L109.90,107.33 L113.80,107.33 M115.80,107.33 L124.10,107.33 L124.10,94.48 M128.00,94.48 L128.00,90.20 L129.90,90.20 M132.20,90.20 L132.20,85.92 L133.80,85.92 M134.10,85.92 L134.10,81.64 L135.70,81.64 M140.20,81.64 L142.00,81.64 L142.00,77.36 M144.20,77.36 L166.70,77.36 L166.70,68.80 L168.30,68.80 L168.30,64.51 M169.70,64.51 L193.80,64.51 L193.80,60.23 L199.10,60.23 L199.10,55.95" fill="none" stroke="#0f3aad" stroke-width="1.5" stroke-linejoin="miter"/>
<path d="M78.50,184.40 L79.30,184.40 L79.30,175.84 L85.30,175.84 L85.30,171.56 L87.20,171.56 L87.20,154.43 L93.00,154.43 L93.00,141.58 L97.40,141.58 L97.40,133.02 L101.50,133.02 L101.50,128.74 L105.70,128.74 L105.70,120.18 L109.60,120.18 L109.60,115.89 L112.00,115.89 L112.00,111.61 L113.80,111.61 L113.80,107.33 L115.80,107.33 L115.80,103.05 L117.80,103.05 L117.80,98.77 L121.80,98.77 L121.80,94.48 L129.90,94.48 L129.90,90.20 L133.80,90.20 L133.80,85.92 L135.70,85.92 L135.70,81.64 L140.20,81.64 L140.20,77.36 L144.20,77.36 L144.20,73.08 L148.60,73.08 L148.60,68.80 L150.50,68.80 L150.50,64.51 L169.70,64.51 L169.70,60.23 L188.50,60.23 L188.50,55.95 L207.60,55.95" fill="none" stroke="#c41026" stroke-width="1.5" stroke-linejoin="miter"/>
<rect x="32.2" y="50.6" width="221.80" height="139.35" fill="none" stroke="#000" stroke-width="1.2"/>
<line x1="29.2" y1="55.95" x2="32.2" y2="55.95" stroke="#000" stroke-width="1"/>
<text x="27.3" y="58.30" font-size="7.5" text-anchor="end" stroke="#000" stroke-width="0.1">100</text>
<line x1="29.2" y1="81.64" x2="32.2" y2="81.64" stroke="#000" stroke-width="1"/>
<text x="27.3" y="83.99" font-size="7.5" text-anchor="end" stroke="#000" stroke-width="0.1">80</text>
<line x1="29.2" y1="107.33" x2="32.2" y2="107.33" stroke="#000" stroke-width="1"/>
<text x="27.3" y="109.68" font-size="7.5" text-anchor="end" stroke="#000" stroke-width="0.1">60</text>
<line x1="29.2" y1="133.02" x2="32.2" y2="133.02" stroke="#000" stroke-width="1"/>
<text x="27.3" y="135.37" font-size="7.5" text-anchor="end" stroke="#000" stroke-width="0.1">40</text>
<line x1="29.2" y1="158.71" x2="32.2" y2="158.71" stroke="#000" stroke-width="1"/>
<text x="27.3" y="161.06" font-size="7.5" text-anchor="end" stroke="#000" stroke-width="0.1">20</text>
<line x1="29.2" y1="184.40" x2="32.2" y2="184.40" stroke="#000" stroke-width="1"/>
<text x="27.3" y="186.75" font-size="7.5" text-anchor="end" stroke="#000" stroke-width="0.1">0</text>
<line x1="78.50" y1="189.95" x2="78.50" y2="192.3" stroke="#000" stroke-width="1"/>
<text x="78.50" y="200.6" font-size="7.5" text-anchor="middle" stroke="#000" stroke-width="0.1">100</text>
<line x1="143.05" y1="189.95" x2="143.05" y2="192.3" stroke="#000" stroke-width="1"/>
<text x="143.05" y="200.6" font-size="7.5" text-anchor="middle" stroke="#000" stroke-width="0.1">50</text>
<line x1="207.60" y1="189.95" x2="207.60" y2="192.3" stroke="#000" stroke-width="1"/>
<text x="207.60" y="200.6" font-size="7.5" text-anchor="middle" stroke="#000" stroke-width="0.1">0</text>
<text x="143" y="209.4" font-size="8.2" text-anchor="middle" textLength="41.9" lengthAdjust="spacingAndGlyphs" stroke="#000" stroke-width="0.15">Specificity (%)</text>
<text transform="translate(12.3,120.4) rotate(-90)" x="0" y="0" font-size="8.2" text-anchor="middle" textLength="41" lengthAdjust="spacingAndGlyphs" stroke="#000" stroke-width="0.15">Sensitivity (%)</text>
<rect x="141.4" y="100.60" width="63.80" height="49.30" fill="#fff" stroke="#000" stroke-width="1.3"/>
<text x="147.60" y="111.80" font-size="9.1" fill="#000000" stroke="#000000" stroke-width="0.15">AUC: 68.0%</text>
<text x="147.60" y="128.10" font-size="9.1" fill="#0f3aad" stroke="#0f3aad" stroke-width="0.15">AUC: 68.4%</text>
<text x="147.60" y="144.40" font-size="9.1" fill="#c41026" stroke="#c41026" stroke-width="0.15">AUC: 73.0%</text>
<text x="229.6" y="165.25" font-size="6.95" text-anchor="end" textLength="58.03" lengthAdjust="spacingAndGlyphs" stroke="#000" stroke-width="0.1">EASIX vs. sEASIX:</text>
<text x="249.55" y="165.25" font-size="6.95" text-anchor="end" textLength="18.4" lengthAdjust="spacingAndGlyphs" stroke="#000" stroke-width="0.1">0.723</text>
<text x="229.6" y="174.65" font-size="6.95" text-anchor="end" textLength="60.31" lengthAdjust="spacingAndGlyphs" stroke="#000" stroke-width="0.1">EASIX vs. mEASIX:</text>
<text x="249.55" y="174.65" font-size="6.95" text-anchor="end" textLength="18.4" lengthAdjust="spacingAndGlyphs" stroke="#000" stroke-width="0.1">0.522</text>
<text x="229.6" y="184.05" font-size="6.95" text-anchor="end" textLength="63.72" lengthAdjust="spacingAndGlyphs" stroke="#000" stroke-width="0.1">sEASIX vs. mEASIX:</text>
<text x="249.55" y="184.05" font-size="6.95" text-anchor="end" textLength="18.4" lengthAdjust="spacingAndGlyphs" stroke="#000" stroke-width="0.1">0.472</text>
</g>
<rect x="182.4" y="622" width="155" height="14.6" fill="#fff" stroke="#000" stroke-width="1.2"/>
<line x1="186.2" y1="629.4" x2="193.7" y2="629.4" stroke="#000" stroke-width="1.6"/>
<text x="196.8" y="633" class="b" font-size="9.3" textLength="28.6" lengthAdjust="spacingAndGlyphs" stroke="#000" stroke-width="0.2">EASIX</text>
<line x1="230.4" y1="629.4" x2="237.3" y2="629.4" stroke="#10209c" stroke-width="1.6"/>
<text x="241.3" y="633" class="b" font-size="9.3" fill="#0f3aad" textLength="36" lengthAdjust="spacingAndGlyphs" stroke="#0f3aad" stroke-width="0.2">s-EASIX</text>
<line x1="282.5" y1="629.4" x2="289.4" y2="629.4" stroke="#c00018" stroke-width="1.6"/>
<text x="292.9" y="633" class="b" font-size="9.3" fill="#c41026" textLength="39.8" lengthAdjust="spacingAndGlyphs" stroke="#c41026" stroke-width="0.2">m-EASIX</text>
</svg>
</body></html>
